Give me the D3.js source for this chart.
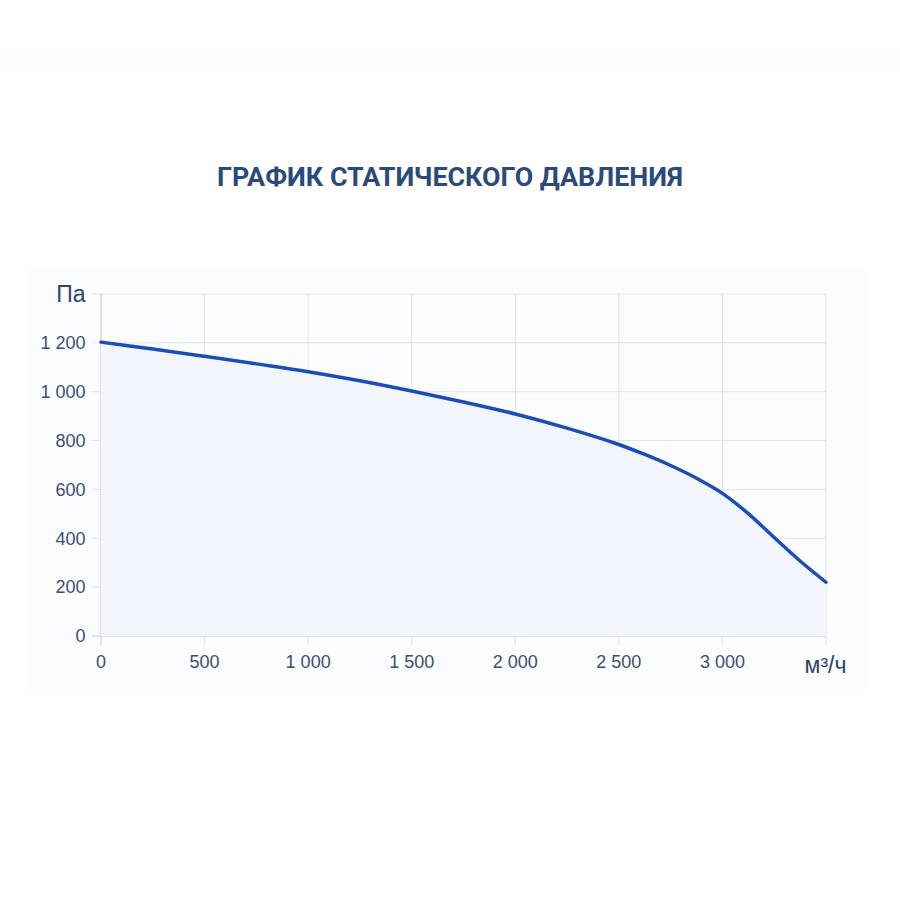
<!DOCTYPE html>
<html><head><meta charset="utf-8">
<script src="https://cdn.jsdelivr.net/npm/d3@7"></script>
<style>html,body{margin:0;padding:0;background:#fff;}svg{display:block;}</style>
</head><body>
<svg id="c" width="900" height="900"></svg>
<script>
const titleText = "ГРАФИК СТАТИЧЕСКОГО ДАВЛЕНИЯ";
const yUnit = "Па";
const xUnit = "м³/ч";
const flow = [0, 250, 500, 750, 1000, 1250, 1500, 1750, 2000, 2250, 2500, 2625, 2750, 2875, 3000, 3125, 3250, 3375, 3500];
const pressure = [1203, 1175, 1145, 1114, 1082, 1045, 1003, 958, 909, 851, 784, 743, 698, 646, 584, 501, 403, 307, 220];
const xTicks = [0, 500, 1000, 1500, 2000, 2500, 3000, 3500];
const yTicks = [0, 200, 400, 600, 800, 1000, 1200, 1400];

const svg = d3.select("#c");
const loc = d3.formatLocale({decimal: ",", thousands: "\u00a0", grouping: [3], currency: ["", ""]});
const fmt = loc.format(",d");

svg.append("rect").attr("x",0).attr("y",52).attr("width",900).attr("height",16).attr("fill","#fcfdfe");
svg.append("rect").attr("x",25).attr("y",268).attr("width",840).attr("height",422).attr("fill","#fbfcfe");

svg.append("text").attr("x",450).attr("y",186).attr("text-anchor","middle")
  .attr("font-family","Roboto, 'DejaVu Sans Condensed', sans-serif").attr("font-weight","bold")
  .attr("font-size",25).attr("fill","#2b4a7c")
  .attr("textLength",466).attr("lengthAdjust","spacingAndGlyphs").text(titleText);

const x = d3.scaleLinear().domain([0,3500]).range([101,826]);
const y = d3.scaleLinear().domain([0,1400]).range([636,294]);
const data = flow.map((f,i)=>({f, p: pressure[i]}));

// grid
const g = svg.append("g");
g.selectAll(".vg").data(xTicks).join("line")
  .attr("x1",d=>x(d)).attr("x2",d=>x(d)).attr("y1",y(1400)).attr("y2",645)
  .attr("stroke","#dfe3ea").attr("stroke-width",1);
g.selectAll(".hg").data(yTicks).join("line")
  .attr("x1",92).attr("x2",x(3500)).attr("y1",d=>y(d)).attr("y2",d=>y(d))
  .attr("stroke","#dfe3ea").attr("stroke-width",1);
svg.append("line").attr("x1",x(0)).attr("x2",x(0)).attr("y1",y(1400)).attr("y2",645).attr("stroke","#cfd4dd");
svg.append("line").attr("x1",92).attr("x2",x(3500)).attr("y1",y(0)).attr("y2",y(0)).attr("stroke","#cfd4dd");

// area + line
const curve = d3.curveCatmullRom.alpha(0.5);
svg.append("path").datum(data)
  .attr("d", d3.area().x(d=>x(d.f)).y0(y(0)).y1(d=>y(d.p)).curve(curve))
  .attr("fill","#f2f5fb");
svg.append("path").datum(data)
  .attr("d", d3.line().x(d=>x(d.f)).y(d=>y(d.p)).curve(curve))
  .attr("fill","none").attr("stroke","#1a4db5").attr("stroke-width",3.5).attr("stroke-linecap","round");

// tick labels
const tf = "'Liberation Sans', Arial, sans-serif";
svg.selectAll(".yl").data(yTicks.filter(d=>d<1400)).join("text")
  .attr("x",85.5).attr("y",d=>y(d)+6.3).attr("text-anchor","end")
  .attr("font-family",tf).attr("font-size",18).attr("fill","#3d4f70").text(d=>fmt(d));
svg.selectAll(".xl").data(xTicks.filter(d=>d<3500)).join("text")
  .attr("x",d=>x(d)).attr("y",667.5).attr("text-anchor","middle")
  .attr("font-family",tf).attr("font-size",18).attr("fill","#3d4f70").text(d=>fmt(d));
svg.append("text").attr("x",85.5).attr("y",301.7).attr("text-anchor","end")
  .attr("font-family",tf).attr("font-size",23).attr("fill","#2f4466").text(yUnit);
svg.append("text").attr("x",825.5).attr("y",673).attr("text-anchor","middle")
  .attr("font-family",tf).attr("font-size",23).attr("fill","#2f4466").text(xUnit);
</script>
</body></html>
